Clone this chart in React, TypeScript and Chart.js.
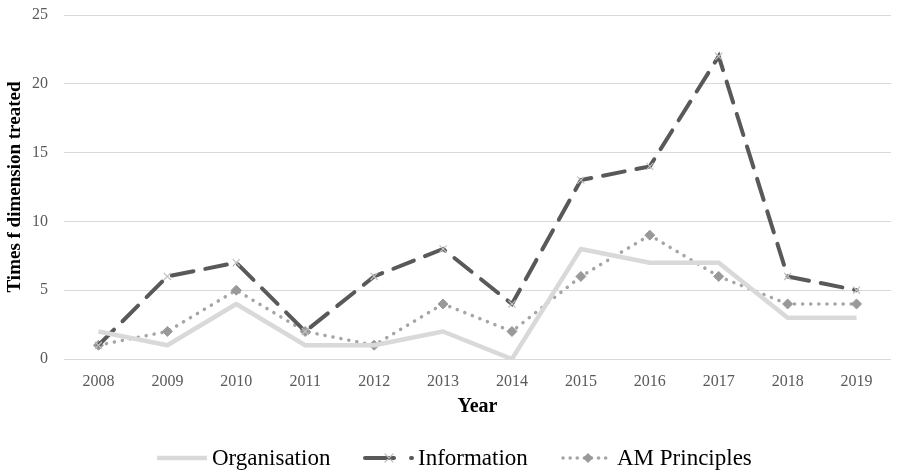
import React, { useEffect, useRef } from "react";
import { Chart, registerables } from "chart.js";

Chart.register(...registerables);

const years = ["2008", "2009", "2010", "2011", "2012", "2013", "2014", "2015", "2016", "2017", "2018", "2019"];
const organisation = [2, 1, 4, 1, 1, 2, 0, 8, 7, 7, 3, 3];
const information = [1, 6, 7, 2, 6, 8, 4, 13, 14, 22, 6, 5];
const amPrinciples = [1, 2, 5, 2, 1, 4, 2, 6, 9, 6, 4, 4];
const seriesNames = ["Organisation", "Information", "AM Principles"];

const FONT = "'Liberation Serif', 'Times New Roman', serif";

const legendPlugin = {
  id: "customLegend",
  afterDraw(chart: any) {
    const ctx = chart.ctx;
    const y = 458;
    ctx.save();
    ctx.font = `23px ${FONT}`;
    ctx.textBaseline = "middle";
    ctx.fillStyle = "#000";
    // Organisation
    ctx.strokeStyle = "#d9d9d9";
    ctx.lineWidth = 4.5;
    ctx.setLineDash([]);
    ctx.beginPath();
    ctx.moveTo(157, y);
    ctx.lineTo(207, y);
    ctx.stroke();
    ctx.fillText(seriesNames[0], 212, y + 1);
    // Information
    ctx.strokeStyle = "#595959";
    ctx.lineCap = "round";
    ctx.lineWidth = 4;
    ctx.beginPath();
    ctx.moveTo(365, y);
    ctx.lineTo(394, y);
    ctx.moveTo(411, y);
    ctx.lineTo(412, y);
    ctx.stroke();
    ctx.strokeStyle = "#bfbfbf";
    ctx.lineWidth = 1.2;
    ctx.beginPath();
    ctx.moveTo(385, y - 4);
    ctx.lineTo(393, y + 4);
    ctx.moveTo(393, y - 4);
    ctx.lineTo(385, y + 4);
    ctx.stroke();
    ctx.fillStyle = "#000";
    ctx.fillText(seriesNames[1], 418, y + 1);
    // AM Principles
    ctx.strokeStyle = "#a5a5a5";
    ctx.lineWidth = 3.5;
    ctx.setLineDash([0.1, 7]);
    ctx.beginPath();
    ctx.moveTo(563, y);
    ctx.lineTo(610, y);
    ctx.stroke();
    ctx.setLineDash([]);
    ctx.fillStyle = "#999999";
    ctx.beginPath();
    ctx.moveTo(588, y - 5);
    ctx.lineTo(593, y);
    ctx.lineTo(588, y + 5);
    ctx.lineTo(583, y);
    ctx.closePath();
    ctx.fill();
    ctx.fillStyle = "#000";
    ctx.fillText(seriesNames[2], 617, y + 1);
    ctx.restore();
  },
};

export default function App() {
  const ref = useRef<HTMLCanvasElement>(null);
  useEffect(() => {
    const chart = new Chart(ref.current!, {
      type: "line",
      data: {
        labels: years,
        datasets: [
          {
            label: seriesNames[0],
            data: organisation,
            borderColor: "#d9d9d9",
            borderWidth: 4.5,
            pointRadius: 0,
            tension: 0,
            borderJoinStyle: "round",
          },
          {
            label: seriesNames[1],
            data: information,
            borderColor: "#595959",
            borderWidth: 4,
            borderDash: [22, 12],
            borderCapStyle: "round",
            pointStyle: "cross",
            pointRotation: 45,
            pointRadius: 5,
            pointBorderColor: "#bfbfbf",
            pointBorderWidth: 1.2,
            tension: 0,
          },
          {
            label: seriesNames[2],
            data: amPrinciples,
            borderColor: "#a5a5a5",
            borderWidth: 3.5,
            borderDash: [0.1, 8],
            borderCapStyle: "round",
            pointStyle: "rectRot",
            pointRadius: 5,
            pointBackgroundColor: "#999999",
            pointBorderColor: "#999999",
            pointBorderWidth: 1,
            tension: 0,
          },
        ],
      },
      options: {
        animation: false,
        responsive: true,
        maintainAspectRatio: false,
        layout: { padding: { left: 4, right: 10, top: 15, bottom: 56 } },
        plugins: {
          legend: { display: false },
          tooltip: { enabled: false },
        },
        scales: {
          x: {
            offset: true,
            afterFit: (s: any) => {
              s.height = 60;
              s.paddingLeft = 0;
              s.paddingRight = 0;
            },
            grid: { display: false, drawTicks: false },
            border: { display: false },
            ticks: { color: "#595959", font: { family: FONT, size: 16 }, padding: 13, maxRotation: 0 },
            title: {
              display: true,
              text: "Year",
              color: "#000",
              font: { family: FONT, size: 20, weight: "bold" },
              padding: { top: 0, bottom: 0 },
            },
          },
          y: {
            min: 0,
            max: 25,
            afterFit: (s: any) => {
              s.width = 60;
              s.paddingTop = 0;
              s.paddingBottom = 0;
            },
            ticks: { stepSize: 5, color: "#595959", font: { family: FONT, size: 16 }, padding: 16 },
            grid: { color: "#d9d9d9", lineWidth: 1, drawTicks: false },
            border: { display: false },
            title: {
              display: true,
              text: "Times f dimension treated",
              color: "#000",
              font: { family: FONT, size: 19, weight: "bold" },
              padding: { top: 0, bottom: 0 },
            },
          },
        },
      },
      plugins: [legendPlugin],
    });
    return () => chart.destroy();
  }, []);
  return (
    <div style={{ position: "fixed", left: 0, top: 0, width: 901, height: 475, background: "#fff" }}>
      <canvas ref={ref} />
    </div>
  );
}
